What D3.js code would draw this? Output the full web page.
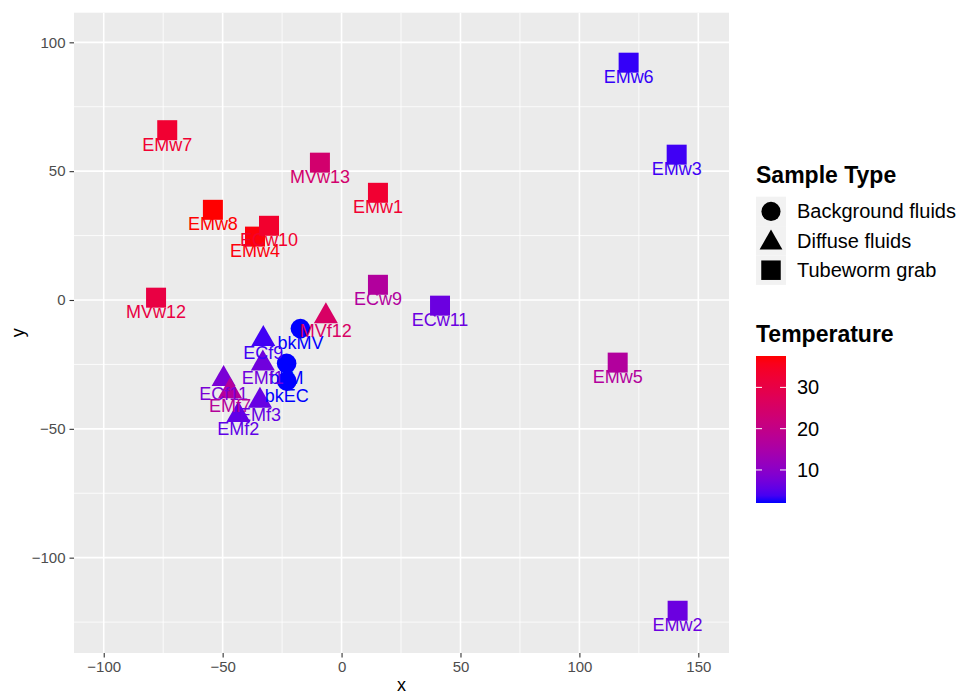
<!DOCTYPE html>
<html>
<head>
<meta charset="utf-8">
<script src="https://cdn.jsdelivr.net/npm/d3@7"></script>
<style>
  body { margin: 0; background: #fff; }
  svg { display: block; font-family: "Liberation Sans", Arial, Helvetica, sans-serif; }
</style>
</head>
<body>
<div id="chart"></div>
<script>
// sample data
const samples = ["bkEC", "bkM", "bkMV", "ECf9", "ECf11", "EMf1", "EMf7", "EMf2", "EMf3", "MVf12",
  "EMw7", "MVw13", "EMw1", "EMw8", "EMw4", "ECw10", "MVw12", "ECw9", "ECw11", "EMw6", "EMw3", "EMw5", "EMw2"];
const xs = [-23.0, -23.1, -17.3, -32.9, -49.6, -33.1, -46.9, -43.4, -34.3, -6.6,
  -73.3, -9.1, 15.3, -54.1, -36.4, -30.5, -78.0, 15.3, 41.4, 120.7, 140.9, 116.1, 141.3];
const ys = [-31.5, -24.6, -11.1, -15.1, -30.7, -24.6, -35.4, -44.6, -39.1, -6.3,
  65.9, 53.3, 41.6, 35.0, 24.6, 28.8, 0.9, 5.9, -2.2, 92.1, 56.4, -24.3, -120.6];
const types = ["Background fluids", "Background fluids", "Background fluids",
  "Diffuse fluids", "Diffuse fluids", "Diffuse fluids", "Diffuse fluids", "Diffuse fluids", "Diffuse fluids", "Diffuse fluids",
  "Tubeworm grab", "Tubeworm grab", "Tubeworm grab", "Tubeworm grab", "Tubeworm grab", "Tubeworm grab", "Tubeworm grab",
  "Tubeworm grab", "Tubeworm grab", "Tubeworm grab", "Tubeworm grab", "Tubeworm grab", "Tubeworm grab"];
const temps = [2.0, 2.0, 2.0, 3.5, 8.0, 7.0, 17.0, 5.5, 6.0, 25.5,
  33.0, 24.0, 33.0, 37.6, 37.0, 33.5, 30.5, 16.5, 6.5, 3.0, 3.5, 16.5, 6.5];

const typeLevels = ["Background fluids", "Diffuse fluids", "Tubeworm grab"];
const xTicks = [-100, -50, 0, 50, 100, 150];
const yTicks = [-100, -50, 0, 50, 100];
const xMinor = [-75, -25, 25, 75, 125];
const yMinor = [-125, -75, -25, 25, 75];
const tempTicks = [10, 20, 30];

const data = samples.map((s, i) => ({ name: s, x: xs[i], y: ys[i], type: types[i], temp: temps[i] }));

const W = 964, H = 696;
const panel = { left: 74, right: 729, top: 12.7, bottom: 653 };

const svg = d3.select('#chart').append('svg')
  .attr('width', W).attr('height', H);

const x = d3.scaleLinear().domain([-112.5, 162.9]).range([panel.left, panel.right]);
const y = d3.scaleLinear().domain([-137, 111.5]).range([panel.bottom, panel.top]);
const color = d3.scaleLinear().domain(d3.extent(temps)).range(['blue', 'red']).interpolate(d3.interpolateLab);

// panel background + grid
svg.append('rect')
  .attr('x', panel.left).attr('y', panel.top)
  .attr('width', panel.right - panel.left).attr('height', panel.bottom - panel.top)
  .attr('fill', '#EBEBEB');

const grid = svg.append('g');
grid.selectAll('.xminor').data(xMinor).enter().append('line')
  .attr('x1', d => x(d)).attr('x2', d => x(d))
  .attr('y1', panel.top).attr('y2', panel.bottom)
  .attr('stroke', '#fff').attr('stroke-width', 0.8);
grid.selectAll('.yminor').data(yMinor).enter().append('line')
  .attr('y1', d => y(d)).attr('y2', d => y(d))
  .attr('x1', panel.left).attr('x2', panel.right)
  .attr('stroke', '#fff').attr('stroke-width', 0.8);
grid.selectAll('.xmajor').data(xTicks).enter().append('line')
  .attr('x1', d => x(d)).attr('x2', d => x(d))
  .attr('y1', panel.top).attr('y2', panel.bottom)
  .attr('stroke', '#fff').attr('stroke-width', 1.6);
grid.selectAll('.ymajor').data(yTicks).enter().append('line')
  .attr('y1', d => y(d)).attr('y2', d => y(d))
  .attr('x1', panel.left).attr('x2', panel.right)
  .attr('stroke', '#fff').attr('stroke-width', 1.6);

// axes
const fmt = d => d < 0 ? '\u2212' + Math.abs(d) : String(d);
const xAxis = svg.append('g')
  .attr('transform', `translate(0,${panel.bottom})`)
  .call(d3.axisBottom(x).tickValues(xTicks).tickFormat(fmt).tickSize(4.5).tickPadding(4));
const yAxis = svg.append('g')
  .attr('transform', `translate(${panel.left},0)`)
  .call(d3.axisLeft(y).tickValues(yTicks).tickFormat(fmt).tickSize(4.5).tickPadding(4));
[xAxis, yAxis].forEach(a => {
  a.select('.domain').remove();
  a.selectAll('.tick line').attr('stroke', '#333').attr('stroke-width', 1.1);
  a.selectAll('.tick text').attr('fill', '#4D4D4D')
    .style('font-size', '15px').style('font-family', '"Liberation Sans", Arial, sans-serif');
});

svg.append('text')
  .attr('x', (panel.left + panel.right) / 2).attr('y', 691)
  .attr('text-anchor', 'middle').style('font-size', '18px').text('x');
svg.append('text')
  .attr('transform', `translate(24,${(panel.top + panel.bottom) / 2}) rotate(-90)`)
  .attr('text-anchor', 'middle').style('font-size', '18px').text('y');

// shapes
function shapePath(type, s) {
  if (type === 'Background fluids') {
    return d3.symbol(d3.symbolCircle, Math.PI * (s * 0.49) * (s * 0.49))();
  } else if (type === 'Diffuse fluids') {
    const r = s * 0.7, w = s * 0.6;
    return `M0,${-r}L${w},${r / 2}L${-w},${r / 2}Z`;
  }
  const h = s / 2;
  return `M${-h},${-h}H${h}V${h}H${-h}Z`;
}

const pts = svg.append('g');
pts.selectAll('path').data(data).enter().append('path')
  .attr('transform', d => `translate(${x(d.x)},${y(d.y)})`)
  .attr('d', d => shapePath(d.type, 20))
  .attr('fill', d => color(d.temp));

// labels
svg.append('g').selectAll('text').data(data).enter().append('text')
  .attr('x', d => x(d.x))
  .attr('y', d => y(d.y) + 20.5)
  .attr('text-anchor', 'middle')
  .attr('fill', d => color(d.temp))
  .style('font-size', '18px')
  .text(d => d.name);

// legend: sample type
const lg = svg.append('g');
lg.append('text').attr('x', 756).attr('y', 183.3)
  .style('font-size', '23px').style('font-weight', 'bold').text('Sample Type');
const keyH = 29.4, keyTop = 196.7;
typeLevels.forEach((t, i) => {
  const cy = keyTop + keyH * i + keyH / 2;
  lg.append('rect').attr('x', 756).attr('y', keyTop + keyH * i)
    .attr('width', 30).attr('height', keyH).attr('fill', '#F2F2F2');
  lg.append('path').attr('transform', `translate(771,${cy + (i === 1 ? 2 : 0)})`)
    .attr('d', shapePath(t, i === 1 ? 19 : 19.5)).attr('fill', '#000');
  lg.append('text').attr('x', 797).attr('y', cy).attr('dy', '0.35em')
    .style('font-size', '20px').text(t);
});

// legend: temperature colourbar
lg.append('text').attr('x', 756).attr('y', 342.3)
  .style('font-size', '23px').style('font-weight', 'bold').text('Temperature');
const barTop = 356, barBottom = 503, barX = 756, barW = 30;
const tScale = d3.scaleLinear().domain(d3.extent(temps)).range([barBottom, barTop]);
const defs = svg.append('defs');
const grad = defs.append('linearGradient').attr('id', 'tempgrad')
  .attr('x1', 0).attr('y1', 1).attr('x2', 0).attr('y2', 0);
d3.range(0, 1.0001, 0.05).forEach(f => {
  const v = tScale.domain()[0] + f * (tScale.domain()[1] - tScale.domain()[0]);
  grad.append('stop').attr('offset', f).attr('stop-color', color(v));
});
lg.append('rect').attr('x', barX).attr('y', barTop)
  .attr('width', barW).attr('height', barBottom - barTop).attr('fill', 'url(#tempgrad)');
tempTicks.forEach(t => {
  const ty = tScale(t);
  lg.append('line').attr('x1', barX).attr('x2', barX + 6).attr('y1', ty).attr('y2', ty)
    .attr('stroke', '#fff').attr('stroke-width', 1);
  lg.append('line').attr('x1', barX + barW - 6).attr('x2', barX + barW).attr('y1', ty).attr('y2', ty)
    .attr('stroke', '#fff').attr('stroke-width', 1);
  lg.append('text').attr('x', 797).attr('y', ty).attr('dy', '0.35em')
    .style('font-size', '20px').text(t);
});
</script>
</body>
</html>
